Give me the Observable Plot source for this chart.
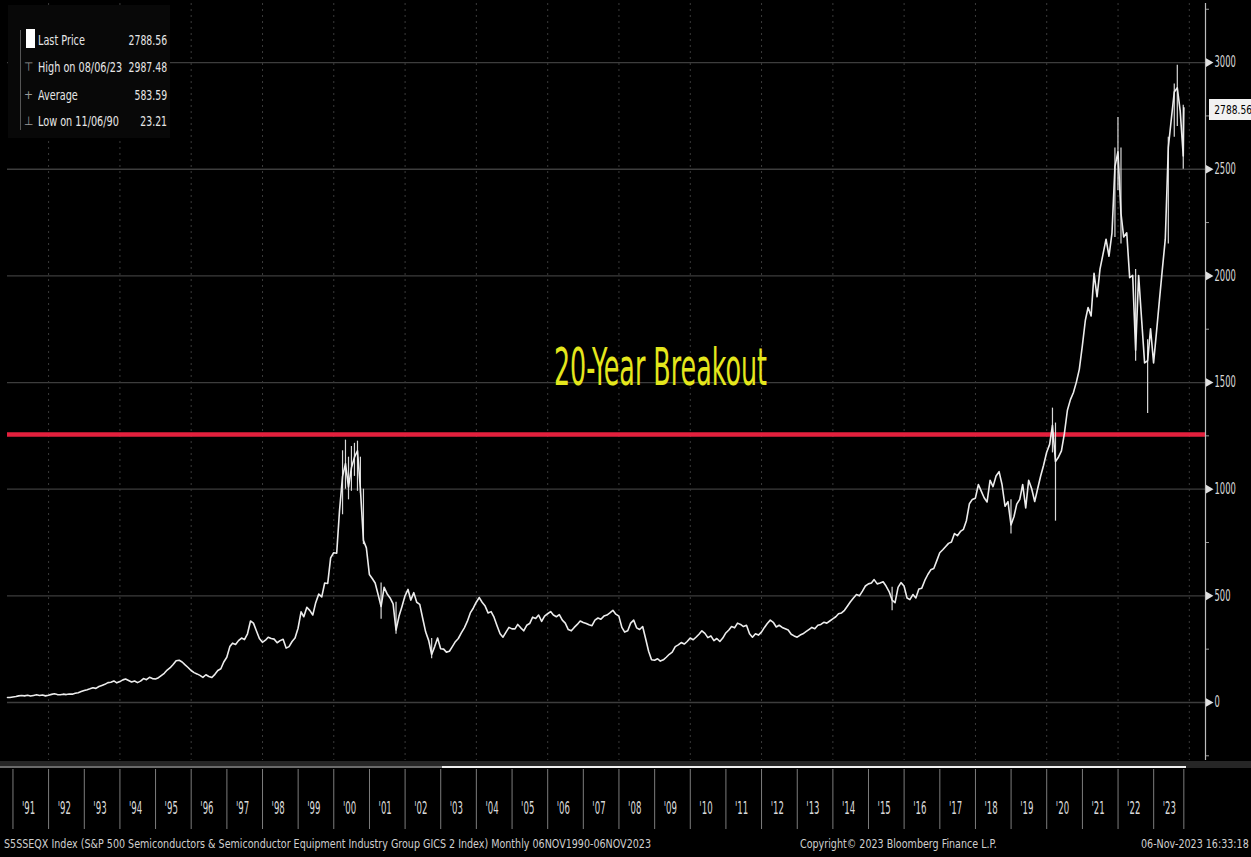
<!DOCTYPE html>
<html>
<head>
<meta charset="utf-8">
<script src="https://cdn.jsdelivr.net/npm/d3@7"></script>
<script src="https://cdn.jsdelivr.net/npm/@observablehq/plot@0.6"></script>
<style>
  html, body { margin:0; padding:0; background:#000; }
  #wrap { position:relative; width:1251px; height:857px; background:#000; overflow:hidden;
    font-family:"Liberation Sans Narrow","Arial Narrow","DejaVu Sans Condensed",sans-serif; color:#d6d6d6; }
  #main { position:absolute; left:0; top:0; }
  #scroll { position:absolute; left:0; top:761px; width:1251px; height:7px; background:#262626; }
  #scrollGrey { position:absolute; left:0; top:766px; width:442px; height:2px; background:#6a6a6a; }
  #scrollWhite { position:absolute; left:442px; top:766px; width:744px; height:2px; background:#f0f0f0; }
  #strip { position:absolute; left:0; top:769px; }
  #legend { position:absolute; left:8px; top:5px; width:162px; height:133px; background:#080808; }
  .lg-row { position:absolute; left:0; width:162px; height:18px; font-size:14px; line-height:18px; color:#e6e6e6; white-space:nowrap; }
  .lg-label { position:absolute; left:30px; display:inline-block; transform:scaleX(0.77); transform-origin:left center; }
  .lg-val { position:absolute; right:3px; display:inline-block; transform:scaleX(0.74); transform-origin:right center; }
  .lg-ico { position:absolute; left:16px; color:#9a9a9a; font-size:12px; }
  #lgLine { position:absolute; left:12px; top:25px; width:1px; height:100px; background:#555; }
  #lgSquare { position:absolute; left:18px; top:24px; width:9px; height:19px; background:#fff; }
  #lastTag { position:absolute; left:1209px; width:42px; height:21px; background:#f2f2f2; color:#000;
    font-size:13px; line-height:21px; text-align:center; white-space:nowrap; overflow:hidden; }
  #lastTag span { display:inline-block; transform:scaleX(0.78); transform-origin:center center; }
  .foot { position:absolute; top:835px; height:18px; font-size:12.5px; line-height:18px; color:#cfcfcf; white-space:nowrap;
    transform:scaleX(0.85); }
</style>
</head>
<body>
<div id="wrap">
  <div id="main"></div>
  <div id="scroll"></div>
  <div id="scrollGrey"></div>
  <div id="scrollWhite"></div>
  <div id="strip"></div>
  <div id="legend"></div>
  <div id="lastTag"><span></span></div>
  <div class="foot" id="footLeft" style="left:4px; transform-origin:left center;"></div>
  <div class="foot" id="footMid" style="left:800px; transform-origin:left center;"></div>
  <div class="foot" id="footRight" style="right:2px; transform-origin:right center;"></div>
</div>
<script>
// ---------------- DATA ----------------
const closes1990 = [23.5, 26];
const closes1991 = [28, 31, 33, 31, 34, 30, 33, 36, 33, 35, 31, 34];
const closes1992 = [38, 41, 37, 36, 39, 37, 40, 39, 43, 46, 51, 56];
const closes1993 = [60, 64, 69, 66, 75, 80, 85, 93, 95, 101, 92, 98];
const closes1994 = [106, 110, 103, 96, 101, 93, 100, 112, 107, 118, 112, 110];
const closes1995 = [116, 126, 137, 152, 163, 178, 196, 198, 190, 176, 164, 150];
const closes1996 = [140, 134, 127, 118, 130, 122, 117, 132, 150, 158, 190, 212];
const closes1997 = [262, 278, 272, 290, 302, 295, 322, 382, 372, 335, 300, 282];
const closes1998 = [292, 306, 300, 297, 280, 290, 296, 255, 262, 286, 302, 348];
const closes1999 = [425, 402, 446, 432, 410, 468, 508, 495, 560, 558, 678, 702];
const closes2000 = [700, 900, 1060, 1120, 1010, 1100, 1150, 1180, 1000, 760, 725, 600];
const closes2001 = [580, 560, 505, 450, 540, 510, 490, 462, 340, 405, 450, 500];
const closes2002 = [530, 480, 515, 470, 460, 395, 330, 290, 225, 262, 302, 252];
const closes2003 = [250, 236, 240, 262, 285, 300, 326, 350, 380, 420, 442, 470];
const closes2004 = [492, 470, 452, 420, 426, 400, 360, 322, 306, 330, 352, 345];
const closes2005 = [345, 366, 350, 336, 362, 370, 400, 394, 410, 380, 405, 416];
const closes2006 = [426, 410, 402, 412, 386, 372, 342, 336, 352, 366, 382, 375];
const closes2007 = [370, 364, 360, 386, 396, 390, 405, 410, 420, 432, 414, 405];
const closes2008 = [352, 330, 336, 372, 386, 350, 342, 356, 300, 240, 200, 198];
const closes2009 = [205, 194, 200, 212, 226, 236, 262, 270, 281, 274, 286, 302];
const closes2010 = [294, 306, 320, 336, 324, 304, 312, 290, 300, 286, 302, 326];
const closes2011 = [340, 356, 350, 372, 366, 356, 362, 322, 306, 322, 316, 330];
const closes2012 = [352, 370, 386, 376, 354, 362, 352, 346, 340, 320, 312, 306];
const closes2013 = [316, 322, 332, 342, 352, 346, 362, 366, 376, 372, 382, 392];
const closes2014 = [402, 416, 420, 432, 452, 472, 490, 506, 500, 522, 546, 556];
const closes2015 = [560, 576, 556, 560, 566, 546, 520, 480, 468, 540, 562, 546];
const closes2016 = [490, 482, 506, 490, 532, 536, 572, 600, 622, 628, 664, 702];
const closes2017 = [716, 730, 746, 752, 792, 782, 802, 812, 852, 932, 952, 958];
const closes2018 = [1022, 992, 960, 940, 1042, 1012, 1062, 1082, 1022, 920, 942, 832];
const closes2019 = [872, 930, 952, 1022, 912, 1042, 1002, 942, 1002, 1062, 1112, 1172];
const closes2020 = [1210, 1300, 1130, 1150, 1180, 1260, 1370, 1420, 1452, 1502, 1562, 1672];
const closes2021 = [1792, 1852, 1812, 2012, 1902, 2032, 2102, 2172, 2092, 2202, 2512, 2582];
const closes2022 = [2292, 2182, 2202, 1992, 2002, 1652, 2002, 1792, 1592, 1602, 1752, 1592];
const closes2023 = [1742, 1882, 2032, 2172, 2602, 2732, 2862, 2882, 2772, 2562, 2788.56];

// intramonth extremes (monthly bar ranges) for the most visible spikes
const wickMonths = ["2000-03","2000-04","2000-05","2000-06","2000-07","2000-08","2000-09","2000-10",
                    "2001-04","2001-09","2002-09","2015-08","2018-12","2020-02","2020-03",
                    "2021-11","2021-12","2022-01","2022-06","2022-10","2023-05","2023-07","2023-08","2023-10"];
const wickLows  = [880, 1000, 950, 990, 1060, 990, 980, 740,
                   390, 320, 205, 430, 790, 1170, 850,
                   2180, 2400, 2150, 1600, 1355, 2150, 2650, 2700, 2500];
const wickHighs = [1180, 1230, 1150, 1200, 1215, 1225, 1150, 1000,
                   560, 470, 300, 540, 950, 1380, 1310,
                   2600, 2742, 2600, 2030, 1700, 2650, 2900, 2987.48, 2800];

const yTicks = [0, 500, 1000, 1500, 2000, 2500, 3000];
const yMinorTicks = [-250, 250, 750, 1250, 1750, 2250, 2750, 3250];
const yearLabels = ["'91","'92","'93","'94","'95","'96","'97","'98","'99","'00","'01","'02","'03","'04","'05","'06",
                    "'07","'08","'09","'10","'11","'12","'13","'14","'15","'16","'17","'18","'19","'20","'21","'22","'23"];
const breakoutLevel = 1256;
const breakoutLabel = "20-Year Breakout";
const lastPrice = 2788.56;
const highPrice = 2987.48;
const averagePrice = 583.59;
const lowPrice = 23.21;
const legendRows = [
  {label: "Last Price", value: "2788.56"},
  {label: "High on 08/06/23", value: "2987.48"},
  {label: "Average", value: "583.59"},
  {label: "Low on 11/06/90", value: "23.21"}
];
const footerLeft = "S5SSEQX Index (S&P 500 Semiconductors & Semiconductor Equipment Industry Group GICS 2 Index)  Monthly 06NOV1990-06NOV2023";
const footerMid = "Copyright\u00A9 2023 Bloomberg Finance L.P.";
const footerRight = "06-Nov-2023 16:33:18";

// ---------------- BUILD ----------------
const monthlyClose = [].concat(closes1990, closes1991, closes1992, closes1993, closes1994, closes1995, closes1996,
  closes1997, closes1998, closes1999, closes2000, closes2001, closes2002, closes2003, closes2004, closes2005,
  closes2006, closes2007, closes2008, closes2009, closes2010, closes2011, closes2012, closes2013, closes2014,
  closes2015, closes2016, closes2017, closes2018, closes2019, closes2020, closes2021, closes2022, closes2023);

const startDate = new Date(Date.UTC(1990, 10, 6));
const lastDate = new Date(Date.UTC(2023, 10, 6));
const xEnd = new Date(Date.UTC(2024, 5, 15));
const firstMonth = new Date(Date.UTC(1990, 10, 1));
function monthEnd(i) { return new Date(d3.utcMonth.offset(firstMonth, i + 1) - 86400000); }
const n = monthlyClose.length;
const series = monthlyClose.map((v, i) => ({date: i === n - 1 ? lastDate : monthEnd(i), close: v}));
series.unshift({date: startDate, close: lowPrice});

const wicks = wickMonths.map((m, i) => {
  const [yy, mm] = m.split("-").map(Number);
  const idx = (yy - 1990) * 12 + (mm - 1) - 10;
  return {date: idx === n - 1 ? lastDate : monthEnd(idx), low: wickLows[i], high: wickHighs[i]};
});

const yearStarts = d3.utcYear.range(new Date(Date.UTC(1991, 0, 1)), new Date(Date.UTC(2024, 0, 1)));
const yearMids = yearStarts.map(d => d3.utcMonth.offset(d, 6));
const separators = yearStarts.concat([lastDate]);
const gridYears = d3.utcYear.every(2).range(new Date(Date.UTC(1991, 0, 1)), new Date(Date.UTC(2024, 1, 1)));

const fontStack = '"Liberation Sans Narrow","Arial Narrow","DejaVu Sans Condensed",sans-serif';

const main = Plot.plot({
  width: 1251, height: 762,
  marginLeft: 7, marginRight: 46, marginTop: 3, marginBottom: 2,
  style: {background: "#000", color: "#d8d8d8", fontFamily: fontStack, fontSize: "14px", overflow: "visible"},
  x: {type: "utc", domain: [startDate, xEnd], axis: null},
  y: {domain: [-272, 3277]},
  marks: [
    Plot.ruleY(yTicks, {stroke: "#3d3d3d", strokeWidth: 1.3}),
    Plot.ruleX(gridYears, {stroke: "#3a3a3a", strokeDasharray: "2,4"}),
    Plot.ruleY([breakoutLevel], {stroke: "#e3203d", strokeWidth: 4.5}),
    Plot.ruleX(wicks, {x: "date", y1: "low", y2: "high", stroke: "#d8d8d8", strokeWidth: 1.2}),
    Plot.line(series, {x: "date", y: "close", stroke: "#ececec", strokeWidth: 1.6}),
    Plot.text([breakoutLabel], {x: () => new Date(Date.UTC(2009, 2, 1)), y: () => 1565, text: d => d,
      fill: "#e4e61c", fontSize: 52, fontFamily: fontStack}),
    Plot.ruleX([xEnd], {stroke: "#bdbdbd", strokeWidth: 1.2}),
    Plot.axisY({anchor: "right", ticks: yMinorTicks, tickSize: 3, tickFormat: () => "", stroke: "#999"}),
    Plot.axisY({anchor: "right", ticks: yTicks, tickSize: 0, tickPadding: 9, label: null, fontSize: 15,
      tickFormat: d => String(d)}),
    Plot.dot(yTicks, {y: d => d, frameAnchor: "right", dx: 3, symbol: "triangle", rotate: 90, r: 3.2, fill: "#e0e0e0"})
  ]
});
document.getElementById("main").appendChild(main);

// condense texts like the original terminal font
function condense(svg, factor, filterFn) {
  d3.select(svg).selectAll("text").each(function() {
    if (!this.textContent || (filterFn && !filterFn(this))) return;
    const len = this.getComputedTextLength();
    if (len > 0) d3.select(this).attr("textLength", len * factor).attr("lengthAdjust", "spacingAndGlyphs");
  });
}
d3.select(main).selectAll("text").filter(function() { return this.textContent === breakoutLabel; })
  .attr("textLength", 213).attr("lengthAdjust", "spacingAndGlyphs");
condense(main, 0.62, el => el.textContent !== breakoutLabel);

const strip = Plot.plot({
  width: 1251, height: 60,
  marginLeft: 7, marginRight: 46, marginTop: 0, marginBottom: 0,
  style: {background: "transparent", color: "#d8d8d8", fontFamily: fontStack, fontSize: "17px"},
  x: {type: "utc", domain: [startDate, xEnd], axis: null},
  marks: [
    Plot.ruleX(separators, {stroke: "#7c7c7c"}),
    Plot.text(yearMids, {x: d => d, text: (d, i) => yearLabels[i], fill: "#dadada", fontSize: 17, dy: 9, dx: -2})
  ]
});
document.getElementById("strip").appendChild(strip);
condense(strip, 0.56);

// legend
const legend = d3.select("#legend");
legend.append("div").attr("id", "lgLine");
legend.append("div").attr("id", "lgSquare");
const rowTops = [26, 53, 81, 107];
const icons = ["", "\u22A4", "+", "\u22A5"];
legendRows.forEach((r, i) => {
  const row = legend.append("div").attr("class", "lg-row").style("top", rowTops[i] + "px");
  if (icons[i]) row.append("span").attr("class", "lg-ico").text(icons[i]);
  row.append("span").attr("class", "lg-label").text(r.label);
  row.append("span").attr("class", "lg-val").text(r.value);
});

// last price tag positioned by the chart's own y scale
const yScale = main.scale("y");
d3.select("#lastTag").style("top", (yScale.apply(lastPrice) - 8) + "px");
d3.select("#lastTag span").text(d3.format(".2f")(lastPrice));

d3.select("#footLeft").text(footerLeft);
d3.select("#footMid").text(footerMid);
d3.select("#footRight").text(footerRight);
</script>
</body>
</html>
